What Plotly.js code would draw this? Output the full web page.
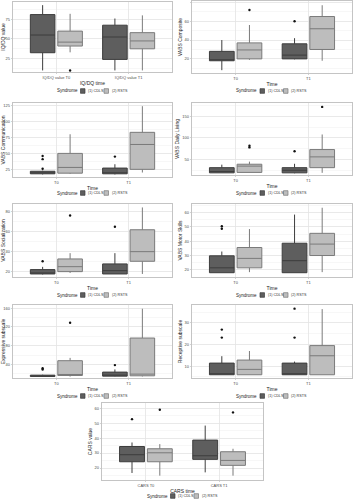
<!DOCTYPE html>
<html><head><meta charset="utf-8">
<script src="https://cdn.plot.ly/plotly-3.0.1.min.js"></script>
<style>html,body{margin:0;padding:0;background:#fff}#chart{width:353px;height:500px}</style>
</head><body><div id="chart"></div>
<script>
const syndromes = ["(1) CDLS", "(2) RSTS"];
const timeLabels = ["T0", "T1"];
const iqLabels = ["IQ/DQ value T0", "IQ/DQ value T1"];
const carsLabels = ["CARS T0", "CARS T1"];

// per time point: [lower whisker, q1, median, q3, upper whisker]
const iqCDLS = [[10, 32.5, 55, 81, 93], [10, 24, 52.5, 67.5, 76]];
const iqRSTS = [[33, 41, 46, 60, 82], [10, 37.5, 47.5, 58, 80]];
const iqOutCDLS = [[], []];
const iqOutRSTS = [[10], []];

const compCDLS = [[8, 18, 18.5, 28, 40], [19.5, 20, 24, 36, 42]];
const compRSTS = [[19, 20, 29.5, 37, 56], [18, 30, 52, 65, 77]];
const compOutCDLS = [[], [60]];
const compOutRSTS = [[72], []];

const commCDLS = [[17, 18, 19, 22, 23], [17, 18, 19, 27, 33]];
const commRSTS = [[18, 19, 28, 50, 80], [20, 25, 64, 83, 124]];
const commOutCDLS = [[46, 41, 26], [45]];
const commOutRSTS = [[], []];

const dailyCDLS = [[19, 19, 22, 31, 38], [18, 19, 25, 31, 40]];
const dailyRSTS = [[20, 20, 34.6, 39, 45], [19, 31, 56, 73, 108]];
const dailyOutCDLS = [[], [69]];
const dailyOutRSTS = [[82, 78], [172]];

const socCDLS = [[17.5, 18, 19, 22.3, 25], [18, 18, 21.3, 27.9, 38.5]];
const socRSTS = [[19, 20.3, 25.2, 32.8, 38.5], [18, 30.5, 40, 61.6, 83.6]];
const socOutCDLS = [[30.5], [64.6]];
const socOutRSTS = [[75.6], []];

const motorCDLS = [[18, 18, 21.4, 29.8, 32.8], [18, 18, 26.4, 38.6, 58.6]];
const motorRSTS = [[18.4, 21.4, 28, 35.6, 48.5], [18.4, 30, 38, 45.5, 63.4]];
const motorOutCDLS = [[50.5, 48.7], []];
const motorOutRSTS = [[], []];

const exprCDLS = [[14, 14.3, 15.5, 17.1, 18], [14.5, 15, 15.7, 23.6, 29.3]];
const exprRSTS = [[14, 16.4, 17, 48, 54], [14.3, 15.7, 19.3, 96.4, 159]];
const exprOutCDLS = [[32, 29], [38.6]];
const exprOutRSTS = [[129], []];

const recCDLS = [[6, 6, 6, 11.4, 14.6], [6, 6, 6, 11.4, 12.1]];
const recRSTS = [[6, 6, 8.5, 12.8, 17], [6, 6, 14.8, 19.5, 36.4]];
const recOutCDLS = [[26.9, 23.2], [36.6, 23.2]];
const recOutRSTS = [[], []];

const carsCDLS = [[16.7, 24.2, 28.9, 34.4, 37.1], [17.1, 25.8, 28.2, 38.7, 48.4]];
const carsRSTS = [[14.9, 24.2, 30.2, 32.9, 36], [14.9, 21.8, 25.1, 30.9, 32.9]];
const carsOutCDLS = [[52.7], []];
const carsOutRSTS = [[59], [57.2]];

const W = 353, H = 500;
const panels = [
  {cd: iqCDLS, rs: iqRSTS, ocd: iqOutCDLS, ors: iqOutRSTS, xl: iqLabels, xt: "IQ/DQ time", yt: "IQ/DQ value", yr: [8, 97], t0: 25, dt: 25, box: [13, 172, 2, 72], leg: 91},
  {cd: compCDLS, rs: compRSTS, ocd: compOutCDLS, ors: compOutRSTS, xl: timeLabels, xt: "Time", yt: "VABS Composite", yr: [5, 81.5], t0: 20, dt: 20, box: [192, 352, 1, 73], leg: 91},
  {cd: commCDLS, rs: commRSTS, ocd: commOutCDLS, ors: commOutRSTS, xl: timeLabels, xt: "Time", yt: "VABS Communication", yr: [13, 129], t0: 25, dt: 25, box: [13, 172, 103, 177], leg: 193},
  {cd: dailyCDLS, rs: dailyRSTS, ocd: dailyOutCDLS, ors: dailyOutRSTS, xl: timeLabels, xt: "Time", yt: "VABS Daily Living", yr: [14, 181], t0: 50, dt: 50, box: [192, 352, 103, 175], leg: 193},
  {cd: socCDLS, rs: socRSTS, ocd: socOutCDLS, ors: socOutRSTS, xl: timeLabels, xt: "Time", yt: "VABS Socialization", yr: [15, 87], t0: 20, dt: 20, box: [13, 172, 204, 277], leg: 295},
  {cd: motorCDLS, rs: motorRSTS, ocd: motorOutCDLS, ors: motorOutRSTS, xl: timeLabels, xt: "Time", yt: "VABS Motor Skills", yr: [15, 66], t0: 20, dt: 10, box: [192, 352, 204, 277], leg: 295},
  {cd: exprCDLS, rs: exprRSTS, ocd: exprOutCDLS, ors: exprOutRSTS, xl: timeLabels, xt: "Time", yt: "Expressive subscale", yr: [11, 167], t0: 40, dt: 40, box: [13, 172, 305, 378], leg: 396},
  {cd: recCDLS, rs: recRSTS, ocd: recOutCDLS, ors: recOutRSTS, xl: timeLabels, xt: "Time", yt: "Receptive subscale", yr: [4.5, 38.3], t0: 10, dt: 10, box: [192, 352, 305, 378], leg: 396},
  {cd: carsCDLS, rs: carsRSTS, ocd: carsOutCDLS, ors: carsOutRSTS, xl: carsLabels, xt: "CARS time", yt: "CARS value", yr: [12, 63.5], t0: 20, dt: 10, box: [102, 263, 403, 480], leg: 496}
];

const fills = ["#5e5e5e", "#bdbdbd"];
const lines = ["#3d3d3d", "#7a7a7a"];
const offs = [-0.19, 0.19];
const traces = [];
const shapes = [];
const annotations = [];
const layout = {
  width: W, height: H, margin: {l: 0, r: 0, t: 0, b: 0},
  paper_bgcolor: "#fff", plot_bgcolor: "#fff",
  font: {family: "Liberation Sans, Arial, sans-serif", color: "#333"},
  showlegend: false, shapes: shapes, annotations: annotations
};
const gridCol = "#e4e4e4", lineCol = "#b5b5b5";
const px = v => v / W, py = v => 1 - v / H;

panels.forEach((p, i) => {
  const k = i + 1;
  const sfx = k === 1 ? "" : String(k);
  const xa = "x" + sfx, ya = "y" + sfx;
  [p.cd, p.rs].forEach((stats, s) => {
    const xs = [1, 2].map(c => c + offs[s]);
    traces.push({
      type: "box", name: syndromes[s], x: xs,
      lowerfence: stats.map(d => d[0]), q1: stats.map(d => d[1]), median: stats.map(d => d[2]),
      q3: stats.map(d => d[3]), upperfence: stats.map(d => d[4]),
      width: 0.34, whiskerwidth: 0, fillcolor: fills[s],
      line: {color: lines[s], width: 1}, xaxis: xa, yaxis: ya,
      boxpoints: false, hoverinfo: "skip"
    });
    const outs = s === 0 ? p.ocd : p.ors;
    const ox = [], oy = [];
    outs.forEach((arr, c) => arr.forEach(v => { ox.push(c + 1 + offs[s]); oy.push(v); }));
    traces.push({
      type: "scatter", mode: "markers", x: ox, y: oy, xaxis: xa, yaxis: ya,
      marker: {color: "#111", size: 2.4}, hoverinfo: "skip"
    });
  });
  const [x0, x1, y0, y1] = p.box;
  layout["xaxis" + sfx] = {
    domain: [px(x0), px(x1)], anchor: ya, range: [0.4, 2.6],
    tickmode: "array", tickvals: [1, 2], ticktext: p.xl,
    showgrid: true, gridcolor: gridCol, gridwidth: 0.8, zeroline: false,
    showline: true, mirror: true, linecolor: lineCol, linewidth: 0.8,
    ticks: "outside", ticklen: 1.5, tickcolor: lineCol, tickwidth: 0.6,
    tickfont: {size: 4, color: "#4d4d4d"},
    title: {text: p.xt, font: {size: 5, color: "#222"}, standoff: 2}
  };
  layout["yaxis" + sfx] = {
    domain: [py(y1), py(y0)], anchor: xa, range: p.yr,
    tickmode: "linear", tick0: p.t0, dtick: p.dt,
    minor: {dtick: p.dt / 2, tick0: p.t0, showgrid: true, gridcolor: "#f2f2f2", gridwidth: 0.6},
    showgrid: true, gridcolor: gridCol, gridwidth: 0.8, zeroline: false,
    showline: true, mirror: true, linecolor: lineCol, linewidth: 0.8,
    ticks: "outside", ticklen: 1.5, tickcolor: lineCol, tickwidth: 0.6,
    tickfont: {size: 4, color: "#4d4d4d"},
    title: {text: p.yt, font: {size: 5, color: "#222"}, standoff: 1.5}
  };
  // legend (drawn per panel, as in the reference figure)
  const c = (x0 + x1) / 2, ly = p.leg;
  annotations.push({xref: "paper", yref: "paper", x: px(c - 13), y: py(ly), xanchor: "right", yanchor: "middle",
    text: "Syndrome", showarrow: false, font: {size: 4.5, color: "#222"}});
  const sw = [[c - 12, c - 7.5], [c + 11.5, c + 16]];
  const tx = [c - 6.5, c + 17];
  [0, 1].forEach(s => {
    shapes.push({type: "rect", xref: "paper", yref: "paper", x0: px(sw[s][0]), x1: px(sw[s][1]),
      y0: py(ly + 2.3), y1: py(ly - 2.3), fillcolor: fills[s], line: {color: lines[s], width: 0.7}});
    annotations.push({xref: "paper", yref: "paper", x: px(tx[s]), y: py(ly), xanchor: "left", yanchor: "middle",
      text: syndromes[s], showarrow: false, font: {size: 3.7, color: "#333"}});
  });
});

Plotly.newPlot("chart", traces, layout, {staticPlot: true, displayModeBar: false});
</script>
</body></html>
